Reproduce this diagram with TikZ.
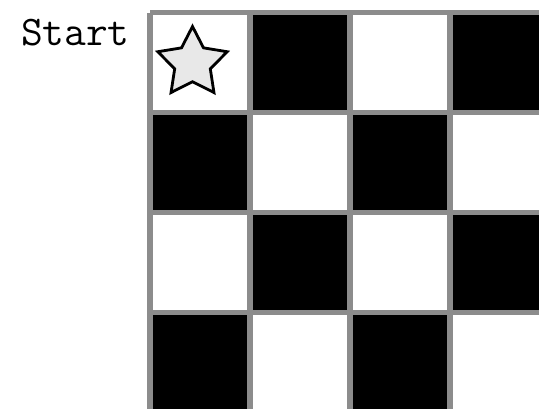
\documentclass[tikz,border=0pt]{standalone}
\usepackage{tikz}
\usetikzlibrary{shapes.geometric,positioning}

\begin{document}
\begin{tikzpicture}
    \tikzstyle{blackcell} = [fill=black]
    \tikzstyle{gridline} = [draw=black!45, line width=3pt]
    \tikzstyle{startstar} = [star, star points=5, star point ratio=1.95, draw=black, fill=black!9, line width=1.6pt, minimum size=1.46cm, inner sep=0pt]
    \tikzstyle{label} = [font=\ttfamily\fontsize{24}{28}\selectfont, inner sep=0pt, anchor=base east]

    \useasboundingbox (0,0) rectangle (10.78,-8.16);
    \clip (0,0) rectangle (10.78,-8.16);

    % checkerboard, 2cm cells
    \foreach \i in {0,...,3} {
        \foreach \j in {0,...,3} {
            \pgfmathparse{int(mod(\i+\j,2))}
            \ifnum\pgfmathresult=1
                \fill [blackcell] ({3+2*\i},{-0.25-2*\j}) rectangle ++(2,-2);
            \fi
        }
    }
    \foreach \k in {0,...,4} {
        \draw [gridline] ({3+2*\k},-0.25) -- ({3+2*\k},-8.25);
        \draw [gridline] (3,{-0.25-2*\k}) -- (11,{-0.25-2*\k});
    }

    \node [startstar] (star) at (3.85,-1.26) {};
    \node [label] (start) at (2.6,-0.9) {Start};
\end{tikzpicture}
\end{document}
